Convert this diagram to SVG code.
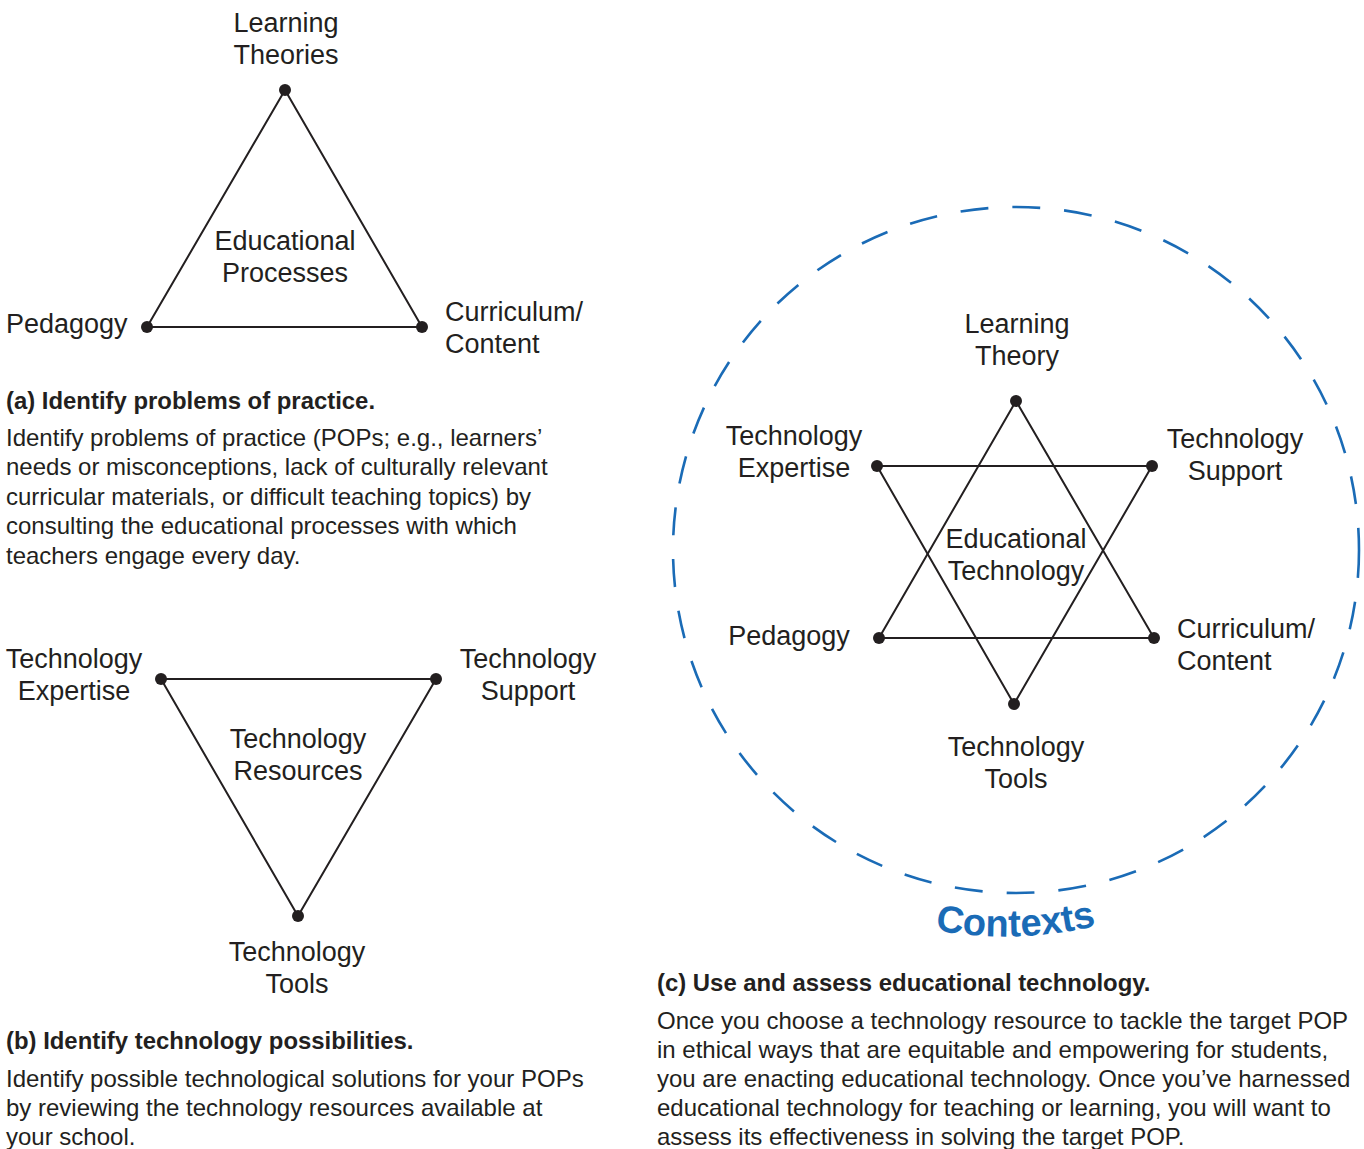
<svg xmlns="http://www.w3.org/2000/svg" width="1364" height="1149" viewBox="0 0 1364 1149">
  <style>
    .lbl { font-family: "Liberation Sans", Arial, sans-serif; font-size: 27px; fill: #231f20; }
    .mid { text-anchor: middle; }
    .head { font-family: "Liberation Sans", Arial, sans-serif; font-size: 23.9px; font-weight: bold; fill: #231f20; }
    .body { font-family: "Liberation Sans", Arial, sans-serif; font-size: 24px; fill: #231f20; }
    .edge { stroke: #231f20; stroke-width: 2; fill: none; }
    .dot { fill: #231f20; }
    .ctx { fill: none; stroke: #1a6bb6; stroke-width: 2.6; stroke-dasharray: 28 24; }
    .ctxText { font-family: "Liberation Sans", Arial, sans-serif; font-size: 38px; font-weight: bold; fill: #1a6bb6; }
  </style>
  <defs>
    <!-- baseline arc for the "Contexts" label, below the dashed boundary -->
    <path id="ctxArc" d="M 805,881 A 388 388 0 0 0 1205,881"/>
  </defs>
  <rect width="1364" height="1149" fill="#ffffff"/>

  <!-- connectors -->
  <g id="connectors">
    <!-- (a) educational processes triangle -->
    <polygon class="edge" points="285,90 147,327 422,327"/>
    <!-- (b) technology resources triangle -->
    <polygon class="edge" points="161,679 436,679 298,916"/>
    <!-- (c) star of six -->
    <polygon class="edge" points="1016,401 879,638 1154,638"/>
    <polygon class="edge" points="877,466 1152,466 1014,704"/>
    <!-- contexts boundary -->
    <circle class="ctx" cx="1016" cy="550" r="343"/>
  </g>

  <!-- (a) -->
  <g id="a-learning-theories">
    <circle class="dot" cx="285" cy="90" r="6"/>
    <text class="lbl mid" x="286" y="32">Learning</text>
    <text class="lbl mid" x="286" y="64">Theories</text>
  </g>
  <g id="a-pedagogy">
    <circle class="dot" cx="147" cy="327" r="6"/>
    <text class="lbl" x="6" y="333">Pedagogy</text>
  </g>
  <g id="a-curriculum">
    <circle class="dot" cx="422" cy="327" r="6"/>
    <text class="lbl" x="445" y="321">Curriculum/</text>
    <text class="lbl" x="445" y="353">Content</text>
  </g>
  <g id="a-center">
    <text class="lbl mid" x="285" y="250">Educational</text>
    <text class="lbl mid" x="285" y="282">Processes</text>
  </g>
  <g id="a-caption">
    <text class="head" x="6" y="409">(a) Identify problems of practice.</text>
    <text class="body" x="6" y="446">Identify problems of practice (POPs; e.g., learners’</text>
    <text class="body" x="6" y="475">needs or misconceptions, lack of culturally relevant</text>
    <text class="body" x="6" y="505">curricular materials, or difficult teaching topics) by</text>
    <text class="body" x="6" y="534">consulting the educational processes with which</text>
    <text class="body" x="6" y="564">teachers engage every day.</text>
  </g>

  <!-- (b) -->
  <g id="b-expertise">
    <circle class="dot" cx="161" cy="679" r="6"/>
    <text class="lbl mid" x="74" y="668">Technology</text>
    <text class="lbl mid" x="74" y="700">Expertise</text>
  </g>
  <g id="b-support">
    <circle class="dot" cx="436" cy="679" r="6"/>
    <text class="lbl mid" x="528" y="668">Technology</text>
    <text class="lbl mid" x="528" y="700">Support</text>
  </g>
  <g id="b-tools">
    <circle class="dot" cx="298" cy="916" r="6"/>
    <text class="lbl mid" x="297" y="961">Technology</text>
    <text class="lbl mid" x="297" y="993">Tools</text>
  </g>
  <g id="b-center">
    <text class="lbl mid" x="298" y="748">Technology</text>
    <text class="lbl mid" x="298" y="780">Resources</text>
  </g>
  <g id="b-caption">
    <text class="head" x="6" y="1049">(b) Identify technology possibilities.</text>
    <text class="body" x="6" y="1087">Identify possible technological solutions for your POPs</text>
    <text class="body" x="6" y="1116">by reviewing the technology resources available at</text>
    <text class="body" x="6" y="1145">your school.</text>
  </g>

  <!-- (c) -->
  <g id="c-learning-theory">
    <circle class="dot" cx="1016" cy="401" r="6"/>
    <text class="lbl mid" x="1017" y="333">Learning</text>
    <text class="lbl mid" x="1017" y="365">Theory</text>
  </g>
  <g id="c-expertise">
    <circle class="dot" cx="877" cy="466" r="6"/>
    <text class="lbl mid" x="794" y="445">Technology</text>
    <text class="lbl mid" x="794" y="477">Expertise</text>
  </g>
  <g id="c-support">
    <circle class="dot" cx="1152" cy="466" r="6"/>
    <text class="lbl mid" x="1235" y="448">Technology</text>
    <text class="lbl mid" x="1235" y="480">Support</text>
  </g>
  <g id="c-pedagogy">
    <circle class="dot" cx="879" cy="638" r="6"/>
    <text class="lbl mid" x="789" y="645">Pedagogy</text>
  </g>
  <g id="c-curriculum">
    <circle class="dot" cx="1154" cy="638" r="6"/>
    <text class="lbl" x="1177" y="638">Curriculum/</text>
    <text class="lbl" x="1177" y="670">Content</text>
  </g>
  <g id="c-tools">
    <circle class="dot" cx="1014" cy="704" r="6"/>
    <text class="lbl mid" x="1016" y="756">Technology</text>
    <text class="lbl mid" x="1016" y="788">Tools</text>
  </g>
  <g id="c-center">
    <text class="lbl mid" x="1016" y="548">Educational</text>
    <text class="lbl mid" x="1016" y="580">Technology</text>
  </g>
  <g id="c-contexts">
    <text class="ctxText"><textPath href="#ctxArc" startOffset="221" text-anchor="middle">Contexts</textPath></text>
  </g>
  <g id="c-caption">
    <text class="head" x="657" y="991">(c) Use and assess educational technology.</text>
    <text class="body" x="657" y="1029">Once you choose a technology resource to tackle the target POP</text>
    <text class="body" x="657" y="1058">in ethical ways that are equitable and empowering for students,</text>
    <text class="body" x="657" y="1087">you are enacting educational technology. Once you’ve harnessed</text>
    <text class="body" x="657" y="1116">educational technology for teaching or learning, you will want to</text>
    <text class="body" x="657" y="1145">assess its effectiveness in solving the target POP.</text>
  </g>
</svg>
